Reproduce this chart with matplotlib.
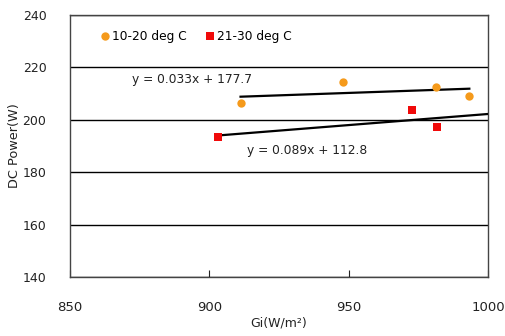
import numpy as np
import matplotlib
matplotlib.use("Agg")
import matplotlib.pyplot as plt

plt.rcParams['font.family'] = ['DejaVu Sans']

# Data
gi_low = [911.2, 948.1, 981.3, 993.3]
pw_low = [206.3, 214.5, 212.4, 209.1]
gi_high = [903.2, 972.8, 981.6]
pw_high = [193.6, 203.7, 197.3]
series_labels = ["10-20 deg C", "21-30 deg C"]
eq_labels = ["y = 0.033x + 177.7", "y = 0.089x + 112.8"]
xticks = [850, 900, 950, 1000]
yticks = [140, 160, 180, 200, 220, 240]

fig = plt.figure(figsize=(5.05, 3.36), dpi=100)
ax = fig.add_axes([70/505, 1-277/336, 418/505, 262/336])

orange = '#F59A1B'
red = '#F00A0A'

ax.plot(gi_low, pw_low, 'o', color=orange, markersize=6, markeredgewidth=0,
        label=series_labels[0], zorder=4)
ax.plot(gi_high, pw_high, 's', color=red, markersize=6, markeredgewidth=0,
        label=series_labels[1], zorder=4)

# trend lines (least squares)
p1 = np.polyfit(gi_low, pw_low, 1)
x1 = np.array([min(gi_low), max(gi_low)])
ax.plot(x1, np.polyval(p1, x1), color='black', lw=1.6, zorder=3)
p2 = np.polyfit(gi_high, pw_high, 1)
x2 = np.array([min(gi_high), 1010])
ax.plot(x2, np.polyval(p2, x2), color='black', lw=1.6, zorder=3)

ax.text(893.8, 215.2, eq_labels[0], fontsize=8.8, ha='center', va='center', color='#222222')
ax.text(913.5, 188.2, eq_labels[1], fontsize=8.8, ha='left', va='center', color='#222222')

ax.set_xlim(850, 1000)
ax.set_ylim(140, 240)
ax.set_xticks(xticks)
ax.set_yticks(yticks)
ax.grid(axis='y', color='black', lw=1)
ax.set_axisbelow(True)
for s in ax.spines.values():
    s.set_color('#444444')
    s.set_linewidth(1)

ax.tick_params(axis='x', direction='in', length=5, pad=17, labelsize=9.5, colors='#222222')
ax.tick_params(axis='y', length=0, pad=17, labelsize=9, colors='#222222')
ax.set_ylabel("DC Power(W)", fontsize=9.3, color='#222222')
ax.yaxis.set_label_coords((21 - 70) / 418, 0.5)
ax.set_xlabel("Gi(W/m²)", fontsize=9, color='#222222', labelpad=2)

leg = ax.legend(loc='upper left', bbox_to_anchor=(0.048, 0.985), ncol=2, frameon=False,
                fontsize=8.8, handlelength=0.6, handletextpad=0.3, columnspacing=1.6,
                markerscale=1.0)

fig.savefig("out.png", dpi=100)
